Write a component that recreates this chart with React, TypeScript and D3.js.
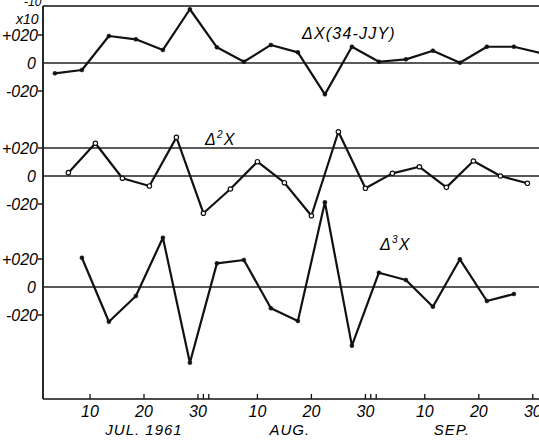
import React, { useRef, useEffect } from "react";
import * as d3 from "d3";

// ΔX(34-JJY), five-day values, x10^-10
const topDates = [
  "1961-07-03 12", "1961-07-08 12", "1961-07-13 12", "1961-07-18 12", "1961-07-23 12",
  "1961-07-28 12", "1961-08-02 12", "1961-08-07 12", "1961-08-12 12", "1961-08-17 12",
  "1961-08-22 12", "1961-08-27 12", "1961-09-01 12", "1961-09-06 12", "1961-09-11 12",
  "1961-09-16 12", "1961-09-21 12", "1961-09-26 12", "1961-10-01 12",
];
const topValues = [-7.4, -5, 19.3, 16.9, 9.3, 38.4, 11.2, 0.9, 12.9, 7.6, -22.4, 11.6, 0.9, 2.6, 8.8, 0.2, 11.6, 11.6, 7.1];

// Δ²X
const midDates = [
  "1961-07-06 00", "1961-07-11 00", "1961-07-16 00", "1961-07-21 00", "1961-07-26 00",
  "1961-07-31 00", "1961-08-05 00", "1961-08-10 00", "1961-08-15 00", "1961-08-20 00",
  "1961-08-25 00", "1961-08-30 00", "1961-09-04 00", "1961-09-09 00", "1961-09-14 00",
  "1961-09-19 00", "1961-09-24 00", "1961-09-29 00",
];
const midValues = [2.4, 23.4, -1.6, -7.1, 27.6, -26.6, -9.3, 10.2, -4.8, -28.4, 31.6, -8.8, 1.9, 6.6, -8.1, 10.7, 0, -5.2];

// Δ³X
const botDates = [
  "1961-07-08 12", "1961-07-13 12", "1961-07-18 12", "1961-07-23 12", "1961-07-28 12",
  "1961-08-02 12", "1961-08-07 12", "1961-08-12 12", "1961-08-17 12", "1961-08-22 12",
  "1961-08-27 12", "1961-09-01 12", "1961-09-06 12", "1961-09-11 12", "1961-09-16 12",
  "1961-09-21 12", "1961-09-26 12",
];
const botValues = [20.9, -24.8, -6.4, 35.2, -54.1, 16.9, 19.3, -15.2, -24.3, 60.5, -41.9, 10.2, 5, -14.1, 19.8, -10, -5];

const xTicks = [
  "1961-07-10", "1961-07-20", "1961-07-30", "1961-07-31", "1961-08-01",
  "1961-08-10", "1961-08-20", "1961-08-30", "1961-08-31", "1961-09-01",
  "1961-09-10", "1961-09-20", "1961-09-30",
];
const xTickLabels = ["10", "20", "30", "", "", "10", "20", "30", "", "", "10", "20", "30"];
const months = [
  { label: "JUL. 1961", at: "1961-07-20" },
  { label: "AUG.", at: "1961-08-16" },
  { label: "SEP.", at: "1961-09-15" },
];
const yTicks = [20, 0, -20];
const yTickLabels = ["+020", "0", "-020"];

const App = () => {
  const ref = useRef<HTMLDivElement>(null);

  useEffect(() => {
    const width = 539;
    const height = 442;
    const left = 43;
    const top = 6;
    const bottom = 399;
    const font = "'Liberation Sans', Arial, sans-serif";

    const parseH = d3.timeParse("%Y-%m-%d %H");
    const parseD = d3.timeParse("%Y-%m-%d");

    const x = d3
      .scaleTime()
      .domain([new Date(1961, 6, 1), new Date(1961, 9, 1)])
      .range([41.4, 538.2]);

    const panel = (zero: number) =>
      d3.scaleLinear().domain([-20, 20]).range([zero + 28, zero - 28]);
    const yTop = panel(63);
    const yMid = panel(176);
    const yBot = panel(287);

    d3.select(ref.current).select("svg").remove();

    const svg = d3
      .select(ref.current)
      .append("svg")
      .attr("width", width)
      .attr("height", height)
      .style("position", "absolute")
      .style("left", "0px")
      .style("top", "0px")
      .style("background", "#fff");

    // frame
    svg.append("line").attr("x1", left).attr("x2", width).attr("y1", top).attr("y2", top)
      .attr("stroke", "#111").attr("stroke-width", 1.6);
    svg.append("line").attr("x1", left).attr("x2", left).attr("y1", top).attr("y2", bottom)
      .attr("stroke", "#111").attr("stroke-width", 1.8);
    svg.append("line").attr("x1", left).attr("x2", width).attr("y1", bottom).attr("y2", bottom)
      .attr("stroke", "#111").attr("stroke-width", 1.6);

    // reference lines
    const refLines = [yTop(0), yMid(20), yMid(0), yBot(0)];
    svg.append("g").selectAll("line").data(refLines).join("line")
      .attr("x1", left).attr("x2", width)
      .attr("y1", (d) => d).attr("y2", (d) => d)
      .attr("stroke", "#222").attr("stroke-width", 1.4);

    // y tick labels for every panel
    [yTop, yMid, yBot].forEach((y) => {
      const g = svg.append("g");
      g.selectAll("line").data(yTicks.filter((t) => t !== 0)).join("line")
        .attr("x1", 38).attr("x2", left)
        .attr("y1", (d) => y(d)).attr("y2", (d) => y(d))
        .attr("stroke", "#111").attr("stroke-width", 1.4);
      g.selectAll("text").data(yTicks).join("text")
        .attr("x", (d) => (d === 0 ? 36 : 38))
        .attr("y", (d) => y(d))
        .attr("dy", "0.36em")
        .attr("text-anchor", "end")
        .attr("font-family", font)
        .attr("font-style", "italic")
        .attr("font-size", 16)
        .text((d) => yTickLabels[yTicks.indexOf(d)]);
    });

    // units
    svg.append("text").attr("x", 16).attr("y", 24).attr("font-family", font)
      .attr("font-style", "italic").attr("font-size", 14).text("x10");
    svg.append("text").attr("x", 24).attr("y", 6).attr("font-family", font)
      .attr("font-style", "italic").attr("font-size", 12).text("-10");

    // x axis ticks
    const tickDates = xTicks.map((d) => parseD(d) as Date);
    const axisG = svg.append("g");
    axisG.selectAll("line").data(tickDates).join("line")
      .attr("x1", (d) => x(d)).attr("x2", (d) => x(d))
      .attr("y1", bottom).attr("y2", bottom - 5)
      .attr("stroke", "#111").attr("stroke-width", 1.3);
    axisG.selectAll("text").data(tickDates).join("text")
      .attr("x", (d) => x(d))
      .attr("y", 417)
      .attr("text-anchor", "middle")
      .attr("font-family", font)
      .attr("font-style", "italic")
      .attr("font-size", 16)
      .text((d, i) => xTickLabels[i]);

    svg.append("g").selectAll("text").data(months).join("text")
      .attr("x", (d) => x(parseD(d.at) as Date))
      .attr("y", 435)
      .attr("text-anchor", "middle")
      .attr("font-family", font)
      .attr("font-style", "italic")
      .attr("font-size", 15)
      .attr("letter-spacing", 1)
      .text((d) => d.label);

    // series
    const series = [
      { dates: topDates, values: topValues, y: yTop, open: false },
      { dates: midDates, values: midValues, y: yMid, open: true },
      { dates: botDates, values: botValues, y: yBot, open: false },
    ];

    series.forEach((s) => {
      const pts = s.values.map((v, i) => ({ date: parseH(s.dates[i]) as Date, value: v }));
      const line = d3
        .line<{ date: Date; value: number }>()
        .x((d) => x(d.date))
        .y((d) => s.y(d.value));
      svg.append("path").datum(pts).attr("d", line)
        .attr("fill", "none").attr("stroke", "#111").attr("stroke-width", 2.2)
        .attr("stroke-linejoin", "round");
      svg.append("g").selectAll("circle").data(pts).join("circle")
        .attr("cx", (d) => x(d.date))
        .attr("cy", (d) => s.y(d.value))
        .attr("r", s.open ? 2.2 : 2)
        .attr("fill", s.open ? "#fff" : "#111")
        .attr("stroke", "#111")
        .attr("stroke-width", s.open ? 1.2 : 0.5);
    });

    // series labels
    const label = (xPos: number, yPos: number, main: string, sup: string, rest: string) => {
      const t = svg.append("text").attr("x", xPos).attr("y", yPos)
        .attr("font-family", font).attr("font-style", "italic").attr("font-size", 16)
        .attr("letter-spacing", 1.2);
      t.append("tspan").text(main);
      if (sup) t.append("tspan").attr("dy", -7).attr("font-size", 10).text(sup);
      t.append("tspan").attr("dy", sup ? 7 : 0).text(rest);
    };
    label(302, 39, "Δ", "", "X(34-JJY)");
    label(205, 145, "Δ", "2", "X");
    label(380, 250, "Δ", "3", "X");
  }, []);

  return <div ref={ref}></div>;
};

export default App;
